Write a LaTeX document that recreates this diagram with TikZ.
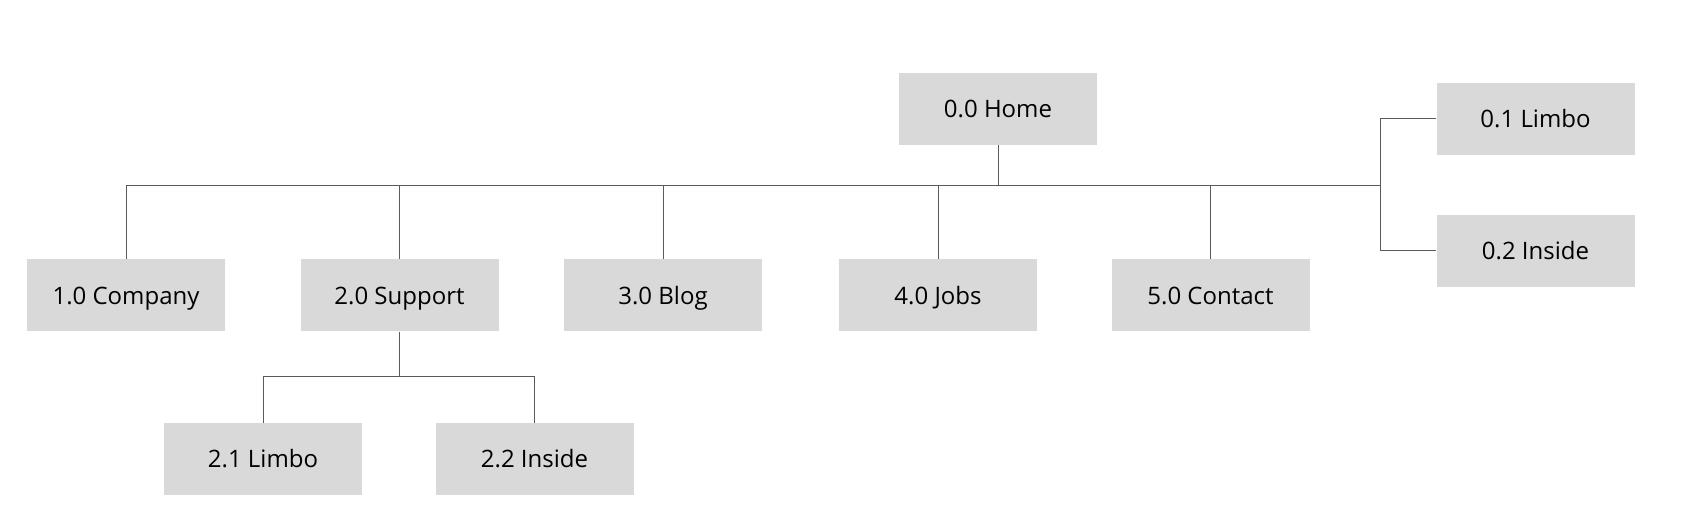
\documentclass[tikz,border=0pt]{standalone}
\usepackage{fontspec}
\setmainfont{Open Sans}
\definecolor{boxgray}{HTML}{D9D9D9}
\definecolor{linegray}{HTML}{5A5A5A}
\tikzset{
  page/.style={fill=boxgray,minimum width=99pt,minimum height=36pt,inner sep=0pt,
    text height=8.6pt,text depth=0pt,font=\fontsize{12}{14}\selectfont},
  link/.style={draw=linegray,line width=0.5pt}
}
\begin{document}
\begin{tikzpicture}[x=0.5pt,y=-0.5pt]
\useasboundingbox (0,0) rectangle (1687,529);
% top level
\node[page] (home) at (998,109) {0.0 Home};
\node[page] (limbo01) at (1535.5,119) {0.1 Limbo};
\node[page] (inside02) at (1535.5,251) {0.2 Inside};
% sections
\node[page] (company) at (126,295.5) {1.0 Company};
\node[page] (support) at (399.5,295.5) {2.0 Support};
\node[page] (blog) at (663,295.5) {3.0 Blog};
\node[page] (jobs) at (938,295.5) {4.0 Jobs};
\node[page] (contact) at (1210.5,295.5) {5.0 Contact};
% support pages
\node[page] (limbo21) at (263,459) {2.1 Limbo};
\node[page] (inside22) at (534.5,459) {2.2 Inside};
% links
\coordinate (busL) at (126,186);
\coordinate (busR) at (1380.5,186);
\coordinate (sub) at (399.5,376.5);
\draw[link] (busL) -- (busR);
\draw[link] (home.south) -- (home.south |- busL);
\foreach \n in {company,support,blog,jobs,contact}
  \draw[link] (\n.north) -- (\n.north |- busL);
\draw[link] (limbo01.west) -| (busR) |- (inside02.west);
\draw[link] (support.south) -- (sub);
\draw[link] (limbo21.north) |- (sub) -| (inside22.north);
\end{tikzpicture}
\end{document}
